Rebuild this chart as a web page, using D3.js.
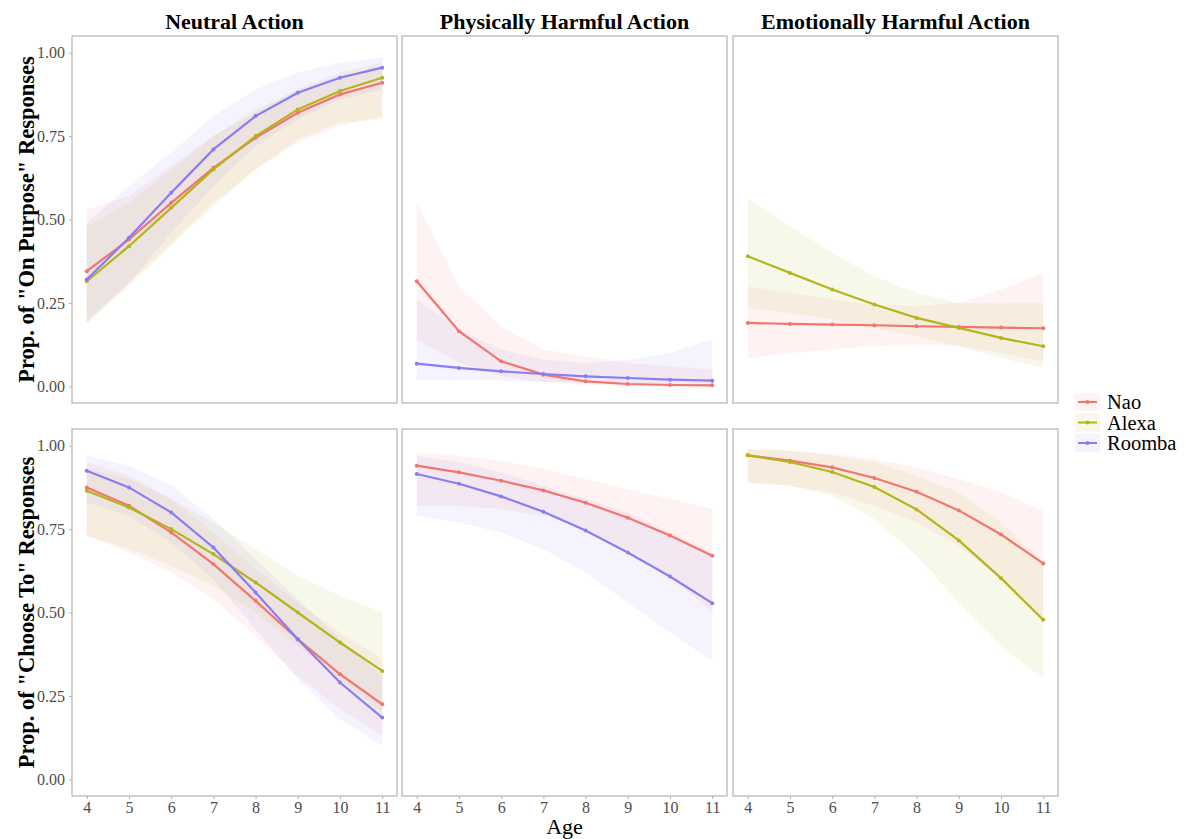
<!DOCTYPE html>
<html>
<head>
<meta charset="utf-8">
<script src="https://cdn.jsdelivr.net/npm/d3@7"></script>
<style>
  body { margin: 0; background: #fff; }
  svg { font-family: "Liberation Serif", "Times New Roman", serif; }
</style>
</head>
<body>
<div id="chart-wrapper"></div>
<script>
// ---- data ----
const ages = [4, 5, 6, 7, 8, 9, 10, 11];
const robots = ["Nao", "Alexa", "Roomba"];
const robotColors = ["#f2756f", "#b3b519", "#8a7cf2"];
const facets = ["Neutral Action", "Physically Harmful Action", "Emotionally Harmful Action"];
const rowTitles = ['Prop. of "On Purpose" Responses', 'Prop. of "Choose To" Responses'];
const yTicks = [0, 0.25, 0.5, 0.75, 1];

// row 1: "On Purpose"
const purposeNeutralNao = {
  fit: [0.345, 0.44, 0.55, 0.655, 0.745, 0.82, 0.875, 0.91],
  lo:  [0.20, 0.31, 0.43, 0.55, 0.65, 0.73, 0.78, 0.81],
  hi:  [0.53, 0.57, 0.66, 0.75, 0.82, 0.89, 0.93, 0.96]
};
const purposeNeutralAlexa = {
  fit: [0.315, 0.42, 0.535, 0.65, 0.75, 0.83, 0.885, 0.925],
  lo:  [0.19, 0.30, 0.42, 0.54, 0.65, 0.74, 0.79, 0.80],
  hi:  [0.48, 0.55, 0.65, 0.75, 0.83, 0.89, 0.94, 0.97]
};
const purposeNeutralRoomba = {
  fit: [0.32, 0.445, 0.58, 0.71, 0.81, 0.88, 0.925, 0.955],
  lo:  [0.19, 0.31, 0.46, 0.60, 0.72, 0.80, 0.86, 0.89],
  hi:  [0.49, 0.60, 0.70, 0.81, 0.89, 0.94, 0.97, 0.985]
};
const purposePhysicalNao = {
  fit: [0.315, 0.165, 0.075, 0.035, 0.015, 0.007, 0.004, 0.003],
  lo:  [0.14, 0.07, 0.03, 0.012, 0.004, 0.001, 0.0, 0.0],
  hi:  [0.55, 0.30, 0.18, 0.11, 0.09, 0.07, 0.06, 0.05]
};
const purposePhysicalRoomba = {
  fit: [0.068, 0.055, 0.045, 0.037, 0.03, 0.025, 0.02, 0.017],
  lo:  [0.02, 0.02, 0.018, 0.014, 0.01, 0.006, 0.004, 0.002],
  hi:  [0.26, 0.17, 0.11, 0.08, 0.07, 0.08, 0.10, 0.14]
};
const purposeEmotionalNao = {
  fit: [0.19, 0.187, 0.185, 0.183, 0.18, 0.178, 0.176, 0.174],
  lo:  [0.085, 0.10, 0.11, 0.12, 0.125, 0.12, 0.10, 0.075],
  hi:  [0.30, 0.28, 0.26, 0.245, 0.24, 0.25, 0.29, 0.34]
};
const purposeEmotionalAlexa = {
  fit: [0.39, 0.34, 0.29, 0.245, 0.205, 0.175, 0.145, 0.12],
  lo:  [0.235, 0.22, 0.20, 0.175, 0.15, 0.12, 0.085, 0.055],
  hi:  [0.565, 0.48, 0.40, 0.33, 0.28, 0.25, 0.25, 0.25]
};

// row 2: "Choose To"
const chooseNeutralNao = {
  fit: [0.875, 0.82, 0.74, 0.645, 0.535, 0.42, 0.315, 0.225],
  lo:  [0.73, 0.68, 0.62, 0.54, 0.43, 0.31, 0.21, 0.13],
  hi:  [0.95, 0.91, 0.84, 0.74, 0.63, 0.53, 0.44, 0.36]
};
const chooseNeutralAlexa = {
  fit: [0.865, 0.815, 0.75, 0.675, 0.59, 0.50, 0.41, 0.325],
  lo:  [0.73, 0.69, 0.64, 0.58, 0.50, 0.40, 0.30, 0.20],
  hi:  [0.93, 0.90, 0.84, 0.77, 0.69, 0.61, 0.55, 0.50]
};
const chooseNeutralRoomba = {
  fit: [0.925, 0.875, 0.80, 0.695, 0.56, 0.42, 0.29, 0.185],
  lo:  [0.83, 0.79, 0.71, 0.60, 0.45, 0.30, 0.18, 0.10],
  hi:  [0.97, 0.94, 0.88, 0.78, 0.66, 0.54, 0.42, 0.31]
};
const choosePhysicalNao = {
  fit: [0.94, 0.92, 0.895, 0.866, 0.829, 0.784, 0.731, 0.67],
  lo:  [0.82, 0.82, 0.81, 0.79, 0.75, 0.69, 0.61, 0.50],
  hi:  [0.98, 0.97, 0.955, 0.93, 0.90, 0.87, 0.84, 0.81]
};
const choosePhysicalRoomba = {
  fit: [0.915, 0.886, 0.848, 0.802, 0.746, 0.68, 0.608, 0.528],
  lo:  [0.79, 0.77, 0.74, 0.69, 0.62, 0.53, 0.44, 0.355],
  hi:  [0.97, 0.95, 0.92, 0.88, 0.84, 0.80, 0.74, 0.68]
};
const chooseEmotionalNao = {
  fit: [0.971, 0.955, 0.935, 0.903, 0.862, 0.806, 0.734, 0.647],
  lo:  [0.89, 0.88, 0.86, 0.82, 0.77, 0.70, 0.60, 0.47],
  hi:  [0.99, 0.985, 0.975, 0.96, 0.935, 0.90, 0.86, 0.805]
};
const chooseEmotionalAlexa = {
  fit: [0.971, 0.951, 0.921, 0.876, 0.809, 0.716, 0.603, 0.478],
  lo:  [0.89, 0.88, 0.85, 0.78, 0.67, 0.53, 0.40, 0.30],
  hi:  [0.99, 0.985, 0.97, 0.95, 0.91, 0.86, 0.77, 0.65]
};

// panels by [row][col]; each lists [robotIndex, series]
const panels = [
  [
    [[0, purposeNeutralNao], [1, purposeNeutralAlexa], [2, purposeNeutralRoomba]],
    [[0, purposePhysicalNao], [2, purposePhysicalRoomba]],
    [[0, purposeEmotionalNao], [1, purposeEmotionalAlexa]]
  ],
  [
    [[0, chooseNeutralNao], [1, chooseNeutralAlexa], [2, chooseNeutralRoomba]],
    [[0, choosePhysicalNao], [2, choosePhysicalRoomba]],
    [[0, chooseEmotionalNao], [1, chooseEmotionalAlexa]]
  ]
];

// ---- layout ----
const W = 1186, H = 839;
const colX = [72, 402, 733];
const panelW = 325;
const rowY = [36, 429];
const panelH = 367;

const svg = d3.select("#chart-wrapper").append("svg")
  .attr("width", W).attr("height", H);

const x = d3.scaleLinear().domain([3.65, 11.35]).range([0, panelW]);
const y = d3.scaleLinear().domain([-0.05, 1.05]).range([panelH, 0]);

const line = d3.line().x((d, i) => x(ages[i])).y(d => y(d));
const area = d3.area()
  .x((d, i) => x(ages[i]))
  .y0(d => y(d[0]))
  .y1(d => y(d[1]));

panels.forEach((row, r) => {
  row.forEach((series, c) => {
    const g = svg.append("g")
      .attr("transform", `translate(${colX[c]},${rowY[r]})`);

    // ribbons first
    series.forEach(([ri, s]) => {
      g.append("path")
        .datum(s.lo.map((v, i) => [v, s.hi[i]]))
        .attr("d", area)
        .attr("fill", robotColors[ri])
        .attr("fill-opacity", 0.09);
    });

    series.forEach(([ri, s]) => {
      g.append("path")
        .datum(s.fit)
        .attr("d", line)
        .attr("fill", "none")
        .attr("stroke", robotColors[ri])
        .attr("stroke-width", 2.2);
      g.selectAll(null)
        .data(s.fit)
        .join("circle")
        .attr("cx", (d, i) => x(ages[i]))
        .attr("cy", d => y(d))
        .attr("r", 2)
        .attr("fill", robotColors[ri]);
    });

    // panel border
    g.append("rect")
      .attr("width", panelW).attr("height", panelH)
      .attr("fill", "none")
      .attr("stroke", "#b3b3b3")
      .attr("stroke-width", 1.2);

    // y axis on first column
    if (c === 0) {
      const ya = g.append("g")
        .call(d3.axisLeft(y).tickValues(yTicks).tickFormat(d3.format(".2f")).tickSize(3).tickPadding(4));
      ya.select(".domain").remove();
      ya.selectAll("line").attr("stroke", "#b3b3b3");
      ya.selectAll("text").attr("fill", "#4d4d4d").style("font-size", "16px")
        .style("font-family", "Liberation Serif, serif");
    }
    // x axis on bottom row
    if (r === 1) {
      const xa = g.append("g")
        .attr("transform", `translate(0,${panelH})`)
        .call(d3.axisBottom(x).tickValues(ages).tickSize(3).tickPadding(3));
      xa.select(".domain").remove();
      xa.selectAll("line").attr("stroke", "#b3b3b3");
      xa.selectAll("text").attr("fill", "#4d4d4d").style("font-size", "16px")
        .style("font-family", "Liberation Serif, serif");
    }
  });
});

// facet strip titles
svg.selectAll(".strip")
  .data(facets)
  .join("text")
  .attr("x", (d, i) => colX[i] + panelW / 2)
  .attr("y", 29)
  .attr("text-anchor", "middle")
  .style("font-size", "22px")
  .style("font-weight", "bold")
  .attr("fill", "#000")
  .text(d => d);

// row titles
svg.selectAll(".rowtitle")
  .data(rowTitles)
  .join("text")
  .attr("transform", (d, i) => `translate(34,${rowY[i] + y(0.5)}) rotate(-90)`)
  .attr("text-anchor", "middle")
  .style("font-size", "22.5px")
  .style("font-weight", "bold")
  .attr("fill", "#000")
  .text(d => d);

// x title
svg.append("text")
  .attr("x", colX[1] + panelW / 2)
  .attr("y", 834)
  .attr("text-anchor", "middle")
  .style("font-size", "22px")
  .attr("fill", "#000")
  .text("Age");

// legend
const legend = svg.append("g").attr("transform", "translate(1075,392)");
robots.forEach((name, i) => {
  const lg = legend.append("g").attr("transform", `translate(0,${i * 20.5})`);
  lg.append("rect")
    .attr("x", 0).attr("y", 1).attr("width", 25).attr("height", 18)
    .attr("fill", robotColors[i]).attr("fill-opacity", 0.09);
  lg.append("line")
    .attr("x1", 3).attr("x2", 22).attr("y1", 10).attr("y2", 10)
    .attr("stroke", robotColors[i]).attr("stroke-width", 2);
  lg.append("circle").attr("cx", 12.5).attr("cy", 10).attr("r", 2)
    .attr("fill", robotColors[i]);
  lg.append("text")
    .attr("x", 32).attr("y", 17)
    .style("font-size", "20.5px")
    .attr("fill", "#000")
    .text(name);
});
</script>
</body>
</html>
